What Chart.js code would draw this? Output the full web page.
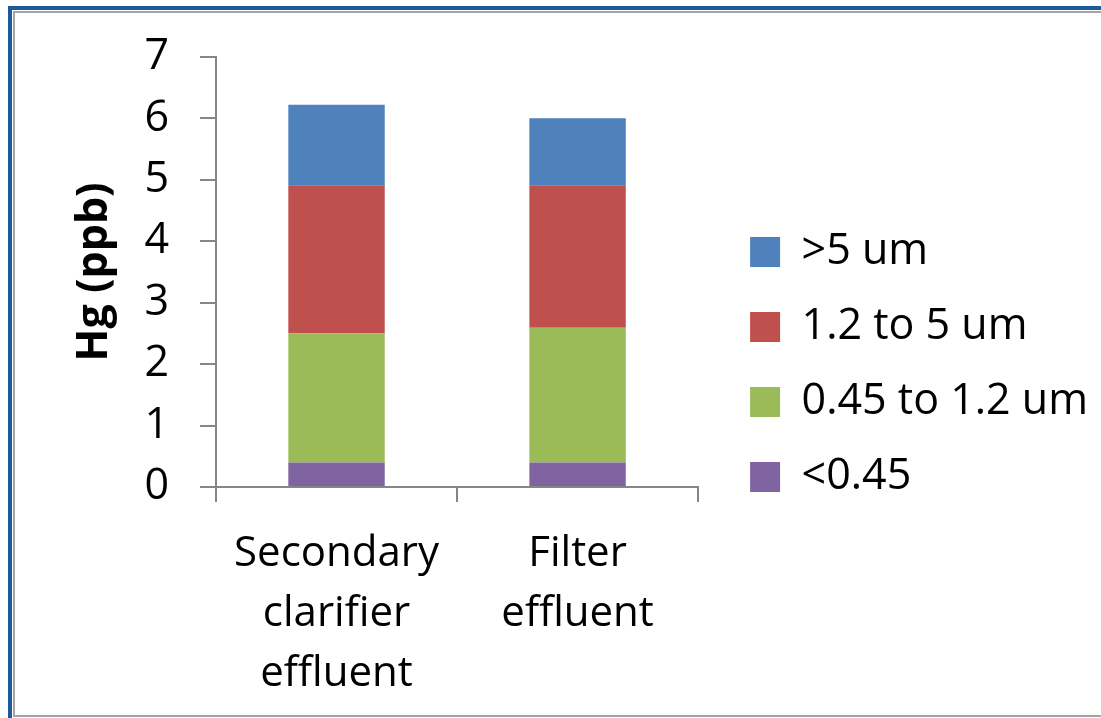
<!DOCTYPE html>
<html>
<head>
<meta charset="utf-8">
<script src="https://cdn.jsdelivr.net/npm/chart.js@4/dist/chart.umd.min.js"></script>
<style>
  body { margin: 0; background: #fff; }
  .frame { position: absolute; left: 8px; top: 6px; width: 1200px; height: 800px;
           border-left: 4px solid #1c5a9b; border-top: 4px solid #1c5a9b; }
  .inner { position: absolute; left: 13px; top: 11px; width: 1200px; height: 706px; box-sizing: border-box;
           border-left: 2px solid #a3a3a3; border-top: 2px solid #a3a3a3; border-bottom: 2px solid #a3a3a3; }
  .chart-box { position: absolute; left: 0; top: 0; width: 1101px; height: 718px; }
</style>
</head>
<body>
<div class="frame"></div>
<div class="inner"></div>
<div class="chart-box">
  <canvas id="chart" width="1101" height="718"></canvas>
</div>
<script>
const categories = [['Secondary', 'clarifier', 'effluent'], ['Filter', 'effluent']];
const below045 = [0.4, 0.4];
const from045to12 = [2.1, 2.19];
const from12to5 = [2.41, 2.32];
const above5 = [1.31, 1.09];
const yTicks = [0, 1, 2, 3, 4, 5, 6, 7];

const axisGray = '#868686';
const font = 'Open Sans';

new Chart(document.getElementById('chart'), {
  type: 'bar',
  data: {
    labels: categories,
    datasets: [
      { label: '<0.45', data: below045, backgroundColor: '#8064a2' },
      { label: '0.45 to 1.2 um', data: from045to12, backgroundColor: '#9bbb59' },
      { label: '1.2 to 5 um', data: from12to5, backgroundColor: '#c0504d' },
      { label: '>5 um', data: above5, backgroundColor: '#4f81bd' },
    ],
  },
  options: {
    responsive: false,
    animation: false,
    layout: { padding: { left: 65, top: 29, bottom: 18, right: 3 } },
    datasets: { bar: { categoryPercentage: 1, barPercentage: 0.4 } },
    plugins: {
      tooltip: { enabled: false },
      legend: {
        position: 'right',
        reverse: true,
        maxWidth: 420,
        labels: {
          boxWidth: 30,
          boxHeight: 30,
          padding: 32,
          color: '#000',
          font: { family: font, size: 43 },
        },
      },
    },
    scales: {
      x: {
        stacked: true,
        grid: { drawOnChartArea: false, color: axisGray, lineWidth: 2, tickLength: 15 },
        border: { color: axisGray, width: 2 },
        ticks: { color: '#000', padding: 22, maxRotation: 0, font: { family: font, size: 42, lineHeight: 60 / 42 } },
        afterFit: (scale) => { scale.height = 213; },
      },
      y: {
        stacked: true,
        min: 0,
        max: 7,
        afterBuildTicks: (scale) => { scale.ticks = yTicks.map(v => ({ value: v })); },
        grid: { drawOnChartArea: false, color: axisGray, lineWidth: 2, tickLength: 16 },
        border: { color: axisGray, width: 2 },
        ticks: { color: '#000', padding: 31, font: { family: font, size: 43 } },
        title: {
          display: true,
          text: 'Hg (ppb)',
          color: '#000',
          padding: { top: 4, bottom: 24 },
          font: { family: font, size: 43, weight: 'bold' },
        },
        afterFit: (scale) => { scale.width = 151; },
      },
      // empty axis, only keeps a gap between the plot and the legend
      gap: {
        position: 'right',
        grid: { display: false },
        border: { display: false },
        ticks: { display: false },
        afterFit: (scale) => { scale.width = 20; },
      },
    },
  },
});
</script>
</body>
</html>
